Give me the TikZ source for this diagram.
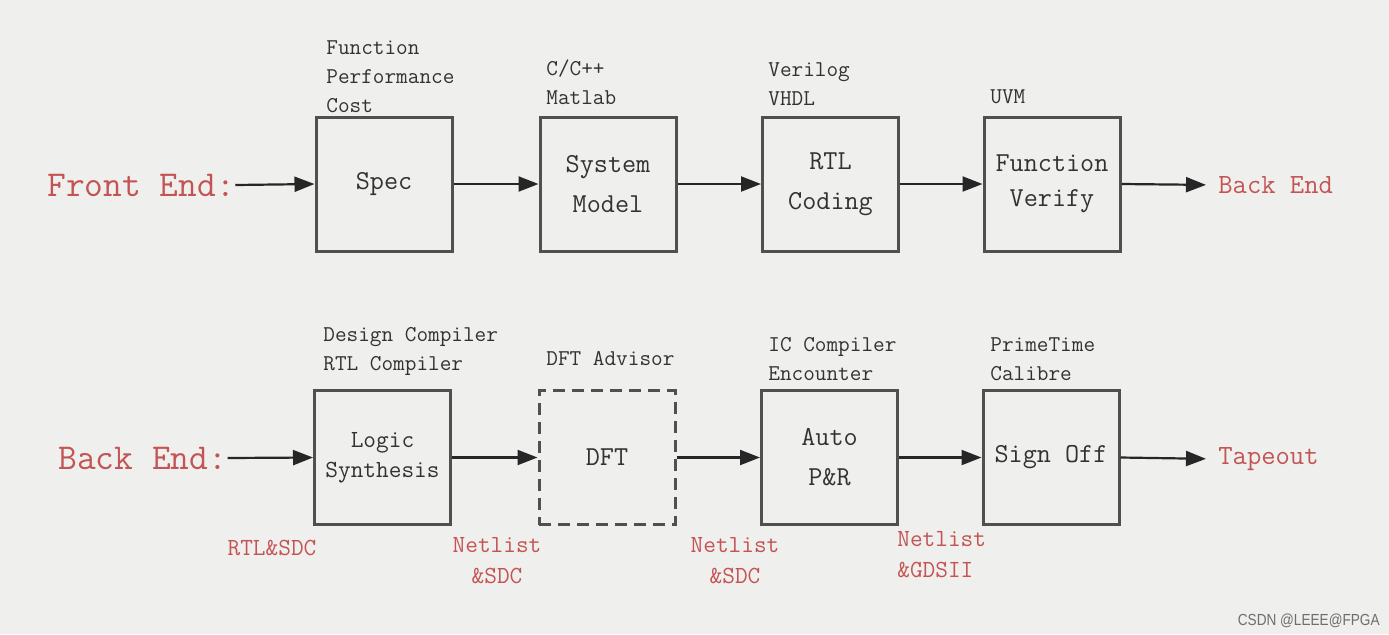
\documentclass[tikz,border=0pt]{standalone}
\usepackage{fontspec}
\usetikzlibrary{arrows.meta}
\newfontfamily\wmfont[FakeStretch=0.85]{Liberation Sans}
\definecolor{bgc}{RGB}{239,240,238}
\definecolor{redc}{RGB}{196,84,84}
\definecolor{txtc}{RGB}{50,50,50}
\definecolor{linec}{RGB}{80,80,80}
\definecolor{wmc}{RGB}{110,110,110}
\tikzset{
  blk/.style={draw=linec, line width=1.5pt, minimum width=68pt, minimum height=67pt,
    inner sep=0pt, align=center, text=txtc, font=\ttfamily\fontsize{13.7}{20}\selectfont},
  dblk/.style={blk, dash pattern=on 6pt off 3.5pt},
  tool/.style={anchor=base west, inner sep=0pt, align=left, text=txtc,
    font=\ttfamily\fontsize{11.3}{14.5}\selectfont},
  big/.style={anchor=west, inner sep=0pt, text=redc, font=\ttfamily\fontsize{18.2}{22}\selectfont},
  endl/.style={anchor=west, inner sep=0pt, text=redc, font=\ttfamily\fontsize{13.9}{18}\selectfont},
  data/.style={anchor=base, inner sep=0pt, align=center, text=redc,
    font=\ttfamily\fontsize{12.3}{15.5}\selectfont},
  flow/.style={draw=black!85, line width=1.1pt, -{Triangle[length=10pt,width=7.5pt]}},
}
\begin{document}
\begin{tikzpicture}[x=0.5pt,y=-0.5pt]
\path[fill=bgc,use as bounding box] (0,0) rectangle (1389,634);
% ---------- front end row ----------
\node[big] (fe) at (47,185) {Front End:};
\node[blk] (spec) at (384,184) {Spec};
\node[blk] (sm) at (608,184) {System\\Model};
\node[blk] (rtl) at (830.5,184) {RTL\\Coding};
\node[blk, font=\ttfamily\fontsize{13.7}{17.5}\selectfont] (fv) at (1052,184) {Function\\Verify};
\node[endl] (be1) at (1218,185) {Back End};
\node[tool] (t1) at (326,112) {Function\\Performance\\Cost};
\node[tool] (t2) at (546,104) {C/C++\\Matlab};
\node[tool] (t3) at (768,105) {Verilog\\VHDL};
\node[tool] (t4) at (990,103) {UVM};
\draw[flow] (fe.east) -- (spec.west);
\draw[flow] (spec.east) -- (sm.west);
\draw[flow] (sm.east) -- (rtl.west);
\draw[flow] (rtl.east) -- (fv.west);
\draw[flow, shorten >=6pt] (fv.east) -- (be1.west);
% ---------- back end row ----------
\node[big] (be) at (58,458) {Back End:};
\node[blk, font=\ttfamily\fontsize{12.3}{15}\selectfont] (ls) at (382.5,457.5) {Logic\\Synthesis};
\node[dblk] (dft) at (607,457.5) {DFT};
\node[blk] (apr) at (829.5,457.5) {Auto\\P\&R};
\node[blk] (so) at (1051,457.5) {Sign Off};
\node[endl] (tape) at (1218,459) {Tapeout};
\node[tool] (b1) at (323,370) {Design Compiler\\RTL Compiler};
\node[tool] (b2) at (546,365) {DFT Advisor};
\node[tool] (b3) at (768,380) {IC Compiler\\Encounter};
\node[tool] (b4) at (990,380) {PrimeTime\\Calibre};
\draw[flow] (be.east) -- (ls.west);
\draw[flow] (ls.east) -- (dft.west);
\draw[flow] (dft.east) -- (apr.west);
\draw[flow] (apr.east) -- (so.west);
\draw[flow, shorten >=6pt] (so.east) -- (tape.west);
\node[data] (d1) at (272,555) {RTL\&SDC};
\node[data] (d2) at (497,583) {Netlist\\\&SDC};
\node[data] (d3) at (735,583) {Netlist\\\&SDC};
\node[data, align=left, anchor=base west] (d4) at (897,577) {Netlist\\\&GDSII};
% watermark
\node[anchor=base east, inner sep=0pt, text=wmc, font=\wmfont\fontsize{8}{9}\selectfont] (wm) at (1380,625) {CSDN @LEEE@FPGA};
\end{tikzpicture}
\end{document}
